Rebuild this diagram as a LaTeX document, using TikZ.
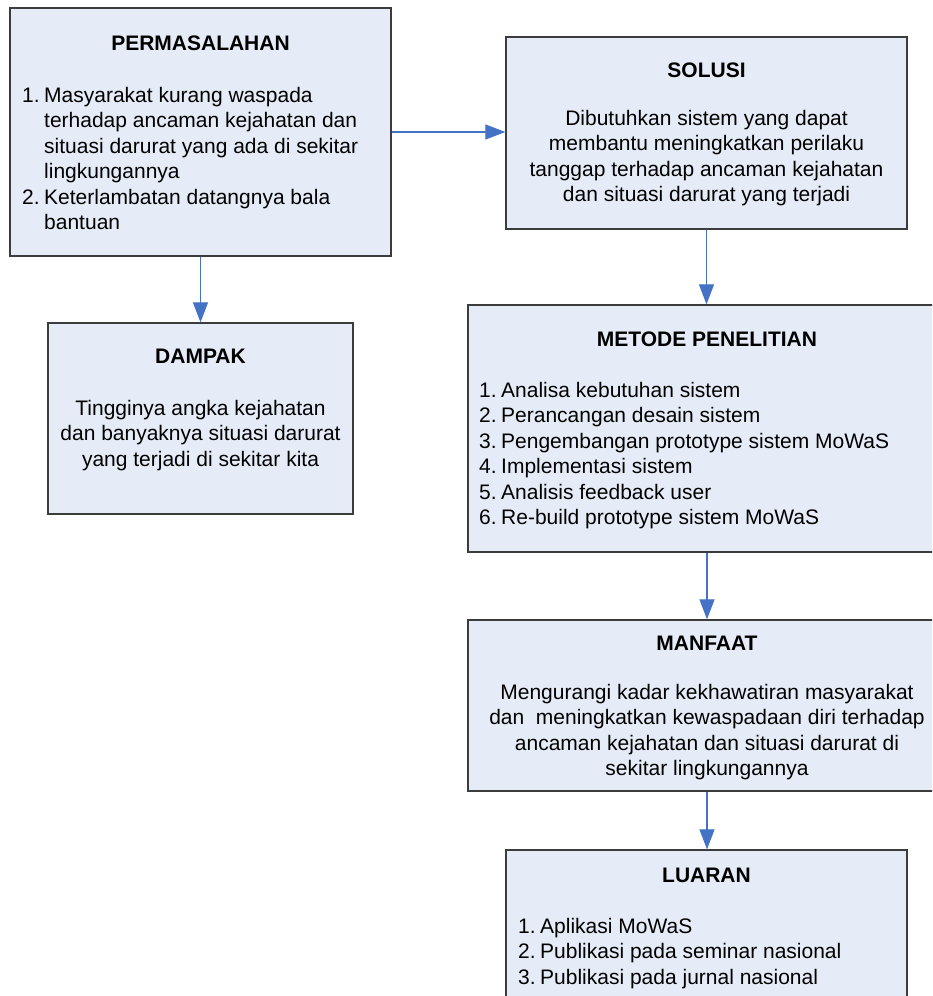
\documentclass[tikz,border=0pt]{standalone}
\usepackage{fontspec}
\setmainfont{Liberation Sans}
\usepackage{xcolor}
\usetikzlibrary{arrows.meta,positioning,calc}
\definecolor{boxfill}{HTML}{E6ECF7}
\definecolor{boxline}{HTML}{3C3C3C}
\definecolor{arrowblue}{HTML}{4472C4}

\begin{document}
\begin{tikzpicture}[x=1pt, y=-1pt,
  box/.style={rectangle, draw=boxline, fill=boxfill, line width=1.3pt, inner sep=0pt},
  title/.style={font=\fontsize{21}{25.5}\selectfont\bfseries, anchor=base, inner sep=0pt},
  body/.style={font=\fontsize{21}{25.5}\selectfont, inner sep=0pt},
  conn/.style={draw=arrowblue, line width=1.2pt, -{Triangle[length=20pt, width=15pt]}}
]
\fill[white] (0,0) rectangle (932,996);
\useasboundingbox (0,0) rectangle (932,996);
\clip (0,0) rectangle (932,996);

% ---- left column ----
\node[box, minimum width=381pt, minimum height=248pt] (perm) at (200.5,132) {};
\node[title] (permtitle) at (200.5,50) {PERMASALAHAN};
\node[body, anchor=base west] (permtext) at (22,102) {\begin{tabular}[t]{@{}l@{\hspace{4.5pt}}l@{}}
1. & Masyarakat kurang waspada\\
   & terhadap ancaman kejahatan dan\\
   & situasi darurat yang ada di sekitar\\
   & lingkungannya\\
2. & Keterlambatan datangnya bala\\
   & bantuan
\end{tabular}};

\node[box, minimum width=305pt, minimum height=191pt] (dampak) at (200.5,418.5) {};
\node[title] (dampaktitle) at (200.5,363) {DAMPAK};
\node[body, anchor=base] (dampaktext) at (200.5,415) {\begin{tabular}[t]{@{}c@{}}
Tingginya angka kejahatan\\
dan banyaknya situasi darurat\\
yang terjadi di sekitar kita
\end{tabular}};

% ---- right column ----
\node[box, minimum width=401pt, minimum height=192pt] (sol) at (706.5,133) {};
\node[title] (soltitle) at (706.5,77) {SOLUSI};
\node[body, anchor=base] (soltext) at (706.5,125) {\begin{tabular}[t]{@{}c@{}}
Dibutuhkan sistem yang dapat\\
membantu meningkatkan perilaku\\
tanggap terhadap ancaman kejahatan\\
dan situasi darurat yang terjadi
\end{tabular}};

\node[box, minimum width=478pt, minimum height=247pt] (metode) at (707,428.5) {};
\node[title] (metodetitle) at (707,346) {METODE PENELITIAN};
\node[body, anchor=base west] (metodetext) at (479,397) {\begin{tabular}[t]{@{}l@{\hspace{4.5pt}}l@{}}
1. & Analisa kebutuhan sistem\\
2. & Perancangan desain sistem\\
3. & Pengembangan prototype sistem MoWaS\\
4. & Implementasi sistem\\
5. & Analisis feedback user\\
6. & Re-build prototype sistem MoWaS
\end{tabular}};

\node[box, minimum width=478pt, minimum height=171pt] (manfaat) at (707,705.5) {};
\node[title] (manfaattitle) at (707,650) {MANFAAT};
\node[body, anchor=base] (manfaattext) at (707,699) {\begin{tabular}[t]{@{}c@{}}
Mengurangi kadar kekhawatiran masyarakat\\
dan\ \ meningkatkan kewaspadaan diri terhadap\\
ancaman kejahatan dan situasi darurat di\\
sekitar lingkungannya
\end{tabular}};

\node[box, minimum width=401pt, minimum height=200pt] (luaran) at (706.5,950) {};
\node[title] (luarantitle) at (706.5,882) {LUARAN};
\node[body, anchor=base west] (luarantext) at (518,933) {\begin{tabular}[t]{@{}l@{\hspace{4.5pt}}l@{}}
1. & Aplikasi MoWaS\\
2. & Publikasi pada seminar nasional\\
3. & Publikasi pada jurnal nasional
\end{tabular}};

% ---- arrows ----
\draw[conn] (perm.east) -- (perm.east -| sol.west);
\draw[conn] (perm.south) -- (dampak.north);
\draw[conn] (sol.south) -- (sol.south |- metode.north);
\draw[conn] (metode.south) -- (manfaat.north);
\draw[conn] (manfaat.south) -- (manfaat.south |- luaran.north);

\end{tikzpicture}
\end{document}
